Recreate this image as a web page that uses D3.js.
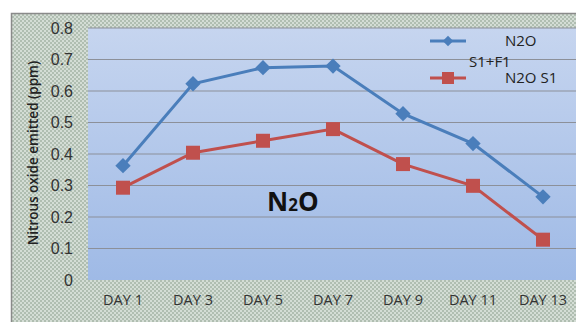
<!DOCTYPE html>
<html><head><meta charset="utf-8">
<script src="https://cdn.jsdelivr.net/npm/d3@7"></script>
<style>body{margin:0;background:#fff}svg{display:block}</style>
</head><body>
<script>
const categories = ["DAY 1","DAY 3","DAY 5","DAY 7","DAY 9","DAY 11","DAY 13"];
const seriesS1F1 = [0.363,0.623,0.674,0.679,0.528,0.433,0.264];
const seriesS1 = [0.293,0.404,0.442,0.479,0.368,0.299,0.128];
const yTicks = [0,0.1,0.2,0.3,0.4,0.5,0.6,0.7,0.8];
const yLabel = "Nitrous oxide emitted (ppm)";

const W=576,H=322;
const svg=d3.select("body").append("svg").attr("width",W).attr("height",H);
const defs=svg.append("defs");
const pat=defs.append("pattern").attr("id","chk").attr("width",4).attr("height",4).attr("patternUnits","userSpaceOnUse");
pat.append("rect").attr("width",4).attr("height",4).attr("fill","#d4ddd5");
pat.append("rect").attr("width",2).attr("height",2).attr("fill","#b0beb1");
pat.append("rect").attr("x",2).attr("y",2).attr("width",2).attr("height",2).attr("fill","#b0beb1");
const grad=defs.append("linearGradient").attr("id","pg").attr("x1",0).attr("y1",0).attr("x2",0).attr("y2",1);
grad.append("stop").attr("offset","0%").attr("stop-color","#c6d5ef");
grad.append("stop").attr("offset","100%").attr("stop-color","#9fbae6");

svg.append("rect").attr("x",11.5).attr("y",13.5).attr("width",W).attr("height",H).attr("fill","url(#chk)").attr("stroke","#8a8a8a").attr("stroke-width",1.5);

const m={l:88,t:28,r:578,b:280};
const x=d3.scaleBand().domain(categories).range([m.l,m.r]);
const y=d3.scaleLinear().domain([0,0.8]).range([m.b,m.t]);

svg.append("rect").attr("x",m.l).attr("y",m.t).attr("width",m.r-m.l).attr("height",m.b-m.t).attr("fill","url(#pg)");

svg.append("g").selectAll("line").data(yTicks.slice(1)).join("line")
 .attr("x1",m.l).attr("x2",m.r).attr("y1",d=>y(d)).attr("y2",d=>y(d))
 .attr("stroke","#8c9099").attr("stroke-width",1.2);

const yAxis=svg.append("g").attr("transform",`translate(${m.l},0)`)
 .call(d3.axisLeft(y).tickValues(yTicks).tickFormat(d=>d===0?"0":d3.format(".1f")(d)).tickSize(0).tickPadding(15));
yAxis.select(".domain").remove();
yAxis.selectAll("text").attr("font-family","Liberation Sans, Arial, sans-serif").attr("font-size",16).attr("fill","#333");

const xAxis=svg.append("g").attr("transform",`translate(0,${m.b})`)
 .call(d3.axisBottom(x).tickSize(0).tickPadding(15));
xAxis.select(".domain").remove();
xAxis.selectAll("text").attr("font-family","Open Sans, sans-serif").attr("font-size",14.5).attr("fill","#333");

svg.append("text").attr("transform","translate(38,153) rotate(-90)").attr("text-anchor","middle")
 .attr("font-family","Open Sans, sans-serif").attr("font-size",13.5).attr("font-weight",600).attr("fill","#222").text(yLabel);

const cx=d=>x(d)+x.bandwidth()/2;
const line=d3.line().x((d,i)=>cx(categories[i])).y(d=>y(d));
svg.append("path").datum(seriesS1F1).attr("d",line).attr("fill","none").attr("stroke","#4a7ebb").attr("stroke-width",3);
svg.append("path").datum(seriesS1).attr("d",line).attr("fill","none").attr("stroke","#c0504d").attr("stroke-width",3);

svg.append("g").selectAll("path").data(seriesS1F1).join("path")
 .attr("d",d3.symbol(d3.symbolDiamond2,150)).attr("transform",(d,i)=>`translate(${cx(categories[i])},${y(d)})`).attr("fill","#4a7ebb");
svg.append("g").selectAll("rect").data(seriesS1).join("rect")
 .attr("x",(d,i)=>cx(categories[i])-7).attr("y",d=>y(d)-7).attr("width",14).attr("height",14).attr("fill","#c0504d");

const lg=svg.append("g").attr("font-family","Open Sans, sans-serif").attr("font-size",15).attr("fill","#222");
lg.append("line").attr("x1",430).attr("x2",466).attr("y1",41).attr("y2",41).attr("stroke","#4a7ebb").attr("stroke-width",3);
lg.append("path").attr("d",d3.symbol(d3.symbolDiamond2,70)).attr("transform","translate(448,41)").attr("fill","#4a7ebb");
lg.append("text").attr("x",505).attr("y",46).text("N2O");
lg.append("text").attr("x",469).attr("y",67).text("S1+F1");
lg.append("line").attr("x1",430).attr("x2",466).attr("y1",78).attr("y2",78).attr("stroke","#c0504d").attr("stroke-width",3);
lg.append("rect").attr("x",442).attr("y",72).attr("width",12).attr("height",12).attr("fill","#c0504d");
lg.append("text").attr("x",505).attr("y",83).text("N2O S1");

const t=svg.append("text").attr("x",267).attr("y",211).attr("font-family","Open Sans, sans-serif").attr("font-weight",700).attr("font-size",26).attr("fill","#111");
t.append("tspan").text("N");
t.append("tspan").attr("font-size",17).text("2");
t.append("tspan").text("O");
</script>
</body></html>
